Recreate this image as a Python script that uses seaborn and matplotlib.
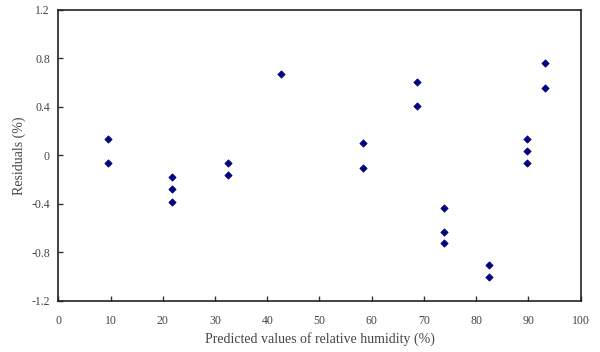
import matplotlib
matplotlib.use("Agg")
import matplotlib.pyplot as plt
import seaborn as sns
import pandas as pd

predicted = [9.6, 9.6, 21.8, 21.8, 21.8, 32.4, 32.4, 42.7, 58.4, 58.4,
             68.7, 68.7, 73.8, 73.8, 73.8, 82.4, 82.4, 89.7, 89.7, 89.7, 93.1, 93.1]
residuals = [0.14, -0.06, -0.18, -0.28, -0.38, -0.06, -0.16, 0.67, 0.10, -0.10,
             0.61, 0.41, -0.43, -0.63, -0.72, -0.90, -1.00, 0.14, 0.04, -0.06, 0.76, 0.56]
x_ticks = [0, 10, 20, 30, 40, 50, 60, 70, 80, 90, 100]
y_ticks = [-1.2, -0.8, -0.4, 0, 0.4, 0.8, 1.2]
y_tick_labels = ["-1.2", "-0.8", "-0.4", "0", "0.4", "0.8", "1.2"]

df = pd.DataFrame({"pred": predicted, "res": residuals})

sns.set_style("white")
plt.rcParams["font.family"] = ["Liberation Serif", "DejaVu Serif"]
text_color = "#444444"

fig = plt.figure(figsize=(6.0, 3.52), dpi=100)
ax = fig.add_axes([0.0972, 0.1449, 0.8706, 0.8267])
sns.scatterplot(data=df, x="pred", y="res", marker="D", s=14,
                color="#000080", edgecolor="#000080", linewidth=0.5, ax=ax)

ax.set_xlim(0, 100)
ax.set_ylim(-1.2, 1.2)
ax.set_xticks(x_ticks)
ax.set_xticklabels([str(t) for t in x_ticks])
ax.set_yticks(y_ticks)
ax.set_yticklabels(y_tick_labels)
ax.tick_params(axis="both", direction="in", length=3.5, width=1, color="#333333",
               labelsize=8.5, labelcolor=text_color, bottom=True, left=True)
ax.tick_params(axis="x", pad=10)
ax.tick_params(axis="y", pad=6)
for sp in ax.spines.values():
    sp.set_color("#222222")
    sp.set_linewidth(1.2)
    sp.set_visible(True)

ax.set_xlabel("Predicted values of relative humidity (%)", fontsize=10, color=text_color, labelpad=4)
ax.set_ylabel("Residuals (%)", fontsize=10, color=text_color, labelpad=4)

fig.savefig("out.png", dpi=100)
